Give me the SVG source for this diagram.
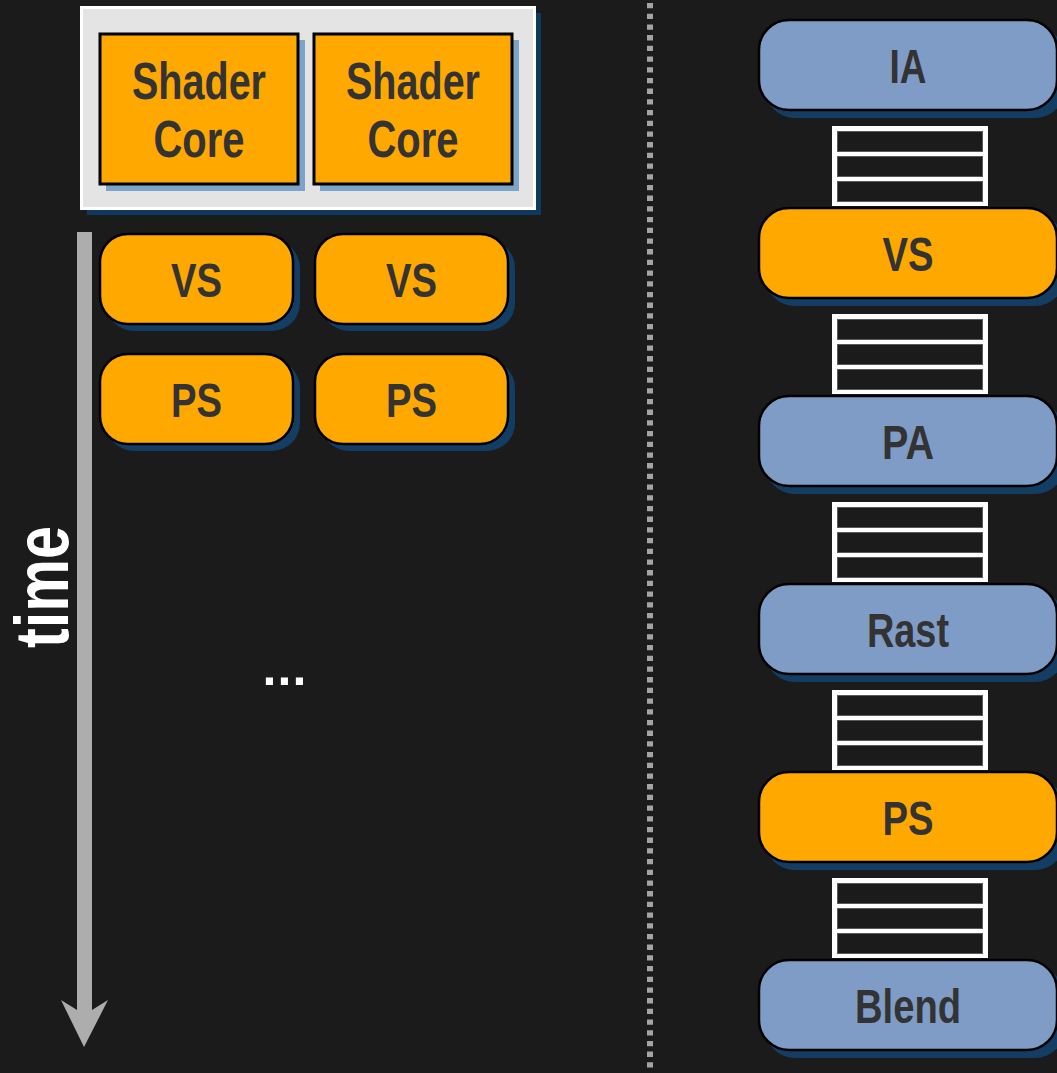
<svg xmlns="http://www.w3.org/2000/svg" width="1057" height="1073" viewBox="0 0 1057 1073">
  <style>
    .lbl { font-family: "Liberation Sans", Arial, sans-serif; font-weight: bold; fill: #333333; text-anchor: middle; }
    .stage { stroke: #000; stroke-width: 2.5; }
    .orange { fill: #ffa800; }
    .blue { fill: #7f9cc6; }
    .shadow { fill: #143d63; }
    .core { fill: #ffa800; stroke: #000; stroke-width: 3; }
    .coreShadow { fill: #7ba4c8; }
    .cell { fill: #1b1b1b; stroke: #5a5a5a; stroke-width: 1; }
  </style>
  <defs>
    <!-- three-slot FIFO between pipeline stages -->
    <g id="fifo">
      <rect x="832" y="0" width="156" height="80" fill="#ffffff"/>
      <rect class="cell" x="837.5" y="5.5" width="145" height="20"/>
      <rect class="cell" x="837.5" y="30.5" width="145" height="20"/>
      <rect class="cell" x="837.5" y="55.5" width="145" height="20"/>
    </g>
  </defs>

  <rect width="1057" height="1073" fill="#1b1b1b"/>

  <!-- divider -->
  <line x1="650" y1="3" x2="650" y2="1073" stroke="#a4a4a4" stroke-width="6" stroke-dasharray="5.3 5.4"/>

  <!-- shader core pair -->
  <g id="cores">
    <rect x="87" y="13" width="454" height="202" fill="#0f3a5e"/>
    <rect x="81.5" y="7.5" width="453" height="201" fill="#e4e4e4" stroke="#ffffff" stroke-width="3"/>
    <g id="core1">
      <rect class="coreShadow" x="106" y="40" width="199" height="151"/>
      <rect class="core" x="100" y="34" width="198" height="150"/>
      <text class="lbl" x="199" y="99" font-size="52" textLength="134" lengthAdjust="spacingAndGlyphs">Shader</text>
      <text class="lbl" x="199" y="157" font-size="52" textLength="91" lengthAdjust="spacingAndGlyphs">Core</text>
    </g>
    <g id="core2">
      <rect class="coreShadow" x="320" y="40" width="199" height="151"/>
      <rect class="core" x="314" y="34" width="198" height="150"/>
      <text class="lbl" x="413" y="99" font-size="52" textLength="134" lengthAdjust="spacingAndGlyphs">Shader</text>
      <text class="lbl" x="413" y="157" font-size="52" textLength="91" lengthAdjust="spacingAndGlyphs">Core</text>
    </g>
  </g>

  <!-- work scheduled on each core -->
  <g id="vs1">
    <rect class="shadow" x="106" y="240" width="194" height="91" rx="28"/>
    <rect class="stage orange" x="100" y="234" width="193" height="90" rx="28"/>
    <text class="lbl" x="196.5" y="297" font-size="48" textLength="51" lengthAdjust="spacingAndGlyphs">VS</text>
  </g>
  <g id="vs2">
    <rect class="shadow" x="321" y="240" width="194" height="91" rx="28"/>
    <rect class="stage orange" x="315" y="234" width="193" height="90" rx="28"/>
    <text class="lbl" x="411.5" y="297" font-size="48" textLength="51" lengthAdjust="spacingAndGlyphs">VS</text>
  </g>
  <g id="ps1">
    <rect class="shadow" x="106" y="360" width="194" height="91" rx="28"/>
    <rect class="stage orange" x="100" y="354" width="193" height="90" rx="28"/>
    <text class="lbl" x="196.5" y="417" font-size="48" textLength="51" lengthAdjust="spacingAndGlyphs">PS</text>
  </g>
  <g id="ps2">
    <rect class="shadow" x="321" y="360" width="194" height="91" rx="28"/>
    <rect class="stage orange" x="315" y="354" width="193" height="90" rx="28"/>
    <text class="lbl" x="411.5" y="417" font-size="48" textLength="51" lengthAdjust="spacingAndGlyphs">PS</text>
  </g>

  <text id="ellipsis" x="262.5" y="685" font-family="Liberation Sans, Arial, sans-serif" font-weight="bold" font-size="50" letter-spacing="1.1" fill="#ffffff">...</text>

  <!-- time axis -->
  <g id="timeAxis">
    <polygon points="77,232 92,232 92,1010 108,1000 84,1047 61,1000 77,1010" fill="#adadad"/>
    <text transform="translate(68,587) rotate(-90)" x="0" y="0" font-family="Liberation Sans, Arial, sans-serif" font-weight="bold" font-size="76" fill="#ffffff" text-anchor="middle" textLength="122" lengthAdjust="spacingAndGlyphs">time</text>
  </g>

  <!-- fixed-function pipeline -->
  <g id="queues">
    <use href="#fifo" y="126"/>
    <use href="#fifo" y="314"/>
    <use href="#fifo" y="502"/>
    <use href="#fifo" y="690"/>
    <use href="#fifo" y="878"/>
  </g>
  <g id="ia">
    <rect class="shadow" x="765" y="27" width="300" height="91" rx="30"/>
    <rect class="stage blue" x="759" y="20" width="298" height="90" rx="30"/>
    <text class="lbl" x="908" y="83" font-size="48" textLength="37" lengthAdjust="spacingAndGlyphs">IA</text>
  </g>
  <g id="vs">
    <rect class="shadow" x="765" y="215" width="300" height="91" rx="30"/>
    <rect class="stage orange" x="759" y="208" width="298" height="90" rx="30"/>
    <text class="lbl" x="908" y="271" font-size="48" textLength="51" lengthAdjust="spacingAndGlyphs">VS</text>
  </g>
  <g id="pa">
    <rect class="shadow" x="765" y="403" width="300" height="91" rx="30"/>
    <rect class="stage blue" x="759" y="396" width="298" height="90" rx="30"/>
    <text class="lbl" x="908" y="459" font-size="48" textLength="52" lengthAdjust="spacingAndGlyphs">PA</text>
  </g>
  <g id="rast">
    <rect class="shadow" x="765" y="591" width="300" height="91" rx="30"/>
    <rect class="stage blue" x="759" y="584" width="298" height="90" rx="30"/>
    <text class="lbl" x="908" y="647" font-size="48" textLength="82" lengthAdjust="spacingAndGlyphs">Rast</text>
  </g>
  <g id="ps">
    <rect class="shadow" x="765" y="779" width="300" height="91" rx="30"/>
    <rect class="stage orange" x="759" y="772" width="298" height="90" rx="30"/>
    <text class="lbl" x="908" y="835" font-size="48" textLength="51" lengthAdjust="spacingAndGlyphs">PS</text>
  </g>
  <g id="blend">
    <rect class="shadow" x="765" y="967" width="300" height="91" rx="30"/>
    <rect class="stage blue" x="759" y="960" width="298" height="90" rx="30"/>
    <text class="lbl" x="908" y="1023" font-size="48" textLength="106" lengthAdjust="spacingAndGlyphs">Blend</text>
  </g>
</svg>
